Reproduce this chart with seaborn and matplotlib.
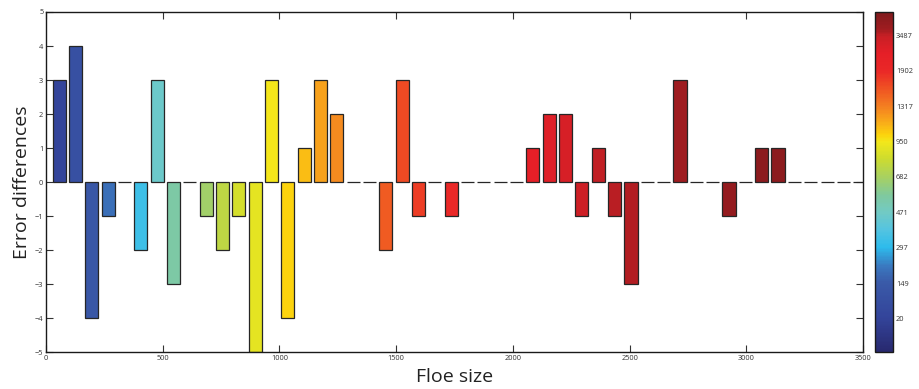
import numpy as np
import pandas as pd
import matplotlib
matplotlib.use("Agg")
import matplotlib.pyplot as plt
from matplotlib.colors import LinearSegmentedColormap, Normalize
from matplotlib.cm import ScalarMappable
import seaborn as sns

# Floe size bin centres
floe_size = [56, 126, 196, 266, 336, 406, 476, 546, 616, 686,
             756, 826, 896, 966, 1036, 1106, 1176, 1246, 1316, 1386,
             1456, 1526, 1596, 1666, 1736, 1806, 1876, 1946, 2016, 2086,
             2156, 2226, 2296, 2366, 2436, 2506, 2576, 2646, 2716, 2786,
             2856, 2926, 2996, 3066, 3136, 3206, 3276, 3346, 3416, 3486]

# Error difference per bin
error_diff = [3, 4, -4, -1, 0, -2, 3, -3, 0, -1,
              -2, -1, -5, 3, -4, 1, 3, 2, 0, 0,
              -2, 3, -1, 0, -1, 0, 0, 0, 0, 1,
              2, 2, -1, 1, -1, -3, 0, 0, 3, 0,
              0, -1, 0, 1, 1, 0, 0, 0, 0, 0]

# Position of each bin on the colour scale (0 = bottom, 1 = top)
bar_tone = [0.10, 0.16, 0.19, 0.235, 0.27, 0.33, 0.40, 0.45, 0.48, 0.505,
            0.545, 0.575, 0.60, 0.62, 0.64, 0.66, 0.685, 0.71, 0.72, 0.73,
            0.765, 0.785, 0.80, 0.81, 0.825, 0.835, 0.845, 0.855, 0.865, 0.875,
            0.89, 0.905, 0.92, 0.933, 0.937, 0.94, 0.943, 0.946, 0.95, 0.955,
            0.96, 0.965, 0.97, 0.98, 0.98, 0.985, 0.99, 0.993, 0.996, 1.0]

# Colour bar tick labels
cbar_labels = ["20", "149", "297", "471", "682", "950", "1317", "1902", "3487"]

# Colour scale stops
cmap_stops = [
    (0.000, "#28296f"), (0.098, "#33449a"), (0.202, "#3a5aa8"),
    (0.250, "#3a78bf"), (0.306, "#2dbbec"), (0.360, "#55c4e0"),
    (0.410, "#72cac4"), (0.460, "#7fc99e"), (0.514, "#a8d160"),
    (0.570, "#cfdc2d"), (0.618, "#f3e81b"), (0.640, "#fcd20c"),
    (0.670, "#f9b118"), (0.722, "#f47f21"), (0.780, "#ef4e23"),
    (0.826, "#ea2827"), (0.880, "#e51f27"), (0.930, "#c81f25"),
    (0.950, "#a01c20"), (1.000, "#7f1a1c"),
]
cmap = LinearSegmentedColormap.from_list("floe", cmap_stops)

sns.set_style("white")
plt.rcParams["font.family"] = ["Open Sans", "DejaVu Sans"]

df = pd.DataFrame({"floe": floe_size, "err": error_diff})
palette = {f: cmap(t) for f, t in zip(floe_size, bar_tone)}

fig = plt.figure(figsize=(9.2, 3.89), dpi=100)
ax = fig.add_axes([46 / 920, 1 - 352.3 / 389, 817 / 920, 340.3 / 389])

sns.barplot(data=df, x="floe", y="err", hue="floe", palette=palette,
            native_scale=True, dodge=False, width=0.8, saturation=1,
            legend=False, edgecolor="#262626", linewidth=0.9, ax=ax,
            errorbar=None)

ax.set_xlim(0, 3500)
ax.set_ylim(-5, 5)
ax.set_xticks(np.arange(0, 3501, 500))
ax.set_yticks(np.arange(-5, 6, 1))
ax.set_yticklabels([str(v).replace("-", "\u2212") for v in range(-5, 6)])
ax.tick_params(direction="in", length=5, width=0.8, color="#333333",
               labelsize=5.3, labelcolor="#333333", top=True, right=True,
               bottom=True, left=True, pad=2)
for s in ax.spines.values():
    s.set_visible(True)
    s.set_color("#1a1a1a")
    s.set_linewidth(1.0)
ax.set_xlabel("Floe size", fontsize=14, color="#222222", labelpad=4)
ax.set_ylabel("Error differences", fontsize=14, color="#222222", labelpad=3)

# Colour bar
cax = fig.add_axes([875.3 / 920, 1 - 351.7 / 389, 18 / 920, 340 / 389])
sm = ScalarMappable(norm=Normalize(0, 1), cmap=cmap)
fracs = [0.098 + 0.104 * k for k in range(len(cbar_labels))]
cb = fig.colorbar(sm, cax=cax, ticks=fracs)
cb.ax.set_yticklabels(cbar_labels)
cb.outline.set_edgecolor("#1a1a1a")
cb.outline.set_linewidth(1.0)
cax.tick_params(direction="in", length=3, width=0.8, color="#333333",
                labelsize=5.3, labelcolor="#333333", left=True, right=True,
                pad=2)

fig.savefig("out.png", dpi=100)
